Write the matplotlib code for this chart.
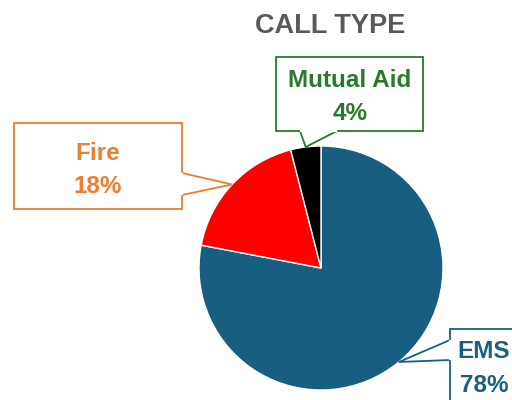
import numpy as np
import matplotlib
matplotlib.use("Agg")
import matplotlib.pyplot as plt
from matplotlib.patches import Polygon

labels = ["EMS", "Fire", "Mutual Aid"]
shares = [78, 18, 4]
wedge_colors = ["#175e81", "#ff0000", "#000000"]
label_colors = ["#1b5e80", "#ed7d31", "#2a7a2e"]

W, H = 512, 400
CX, CY, R = 321, 268, 122   # pie centre/radius in pixels, y from top

# callout boxes (left, top, right, bottom) in pixels, y from top, and pointer base
boxes = {
    "EMS": dict(box=(450, 329, 530, 420), text=(484, 358, 392), base=[(450, 340), (450, 360)]),
    "Fire": dict(box=(14, 123, 182, 209), text=(98, 160, 193), base=[(182, 173), (182, 195)]),
    "Mutual Aid": dict(box=(276, 57, 423, 131), text=(350, 87, 120), base=[(300, 131), (337, 131)]),
}

plt.rcParams['font.family'] = ['Liberation Sans', 'DejaVu Sans']

fig = plt.figure(figsize=(W / 100, H / 100), dpi=100)
ax = fig.add_axes([0, 0, 1, 1])


def fy(y):
    return H - y


wedges, _ = ax.pie(shares, colors=wedge_colors, startangle=90, counterclock=False,
                   center=(CX, fy(CY)), radius=R,
                   wedgeprops=dict(edgecolor="white", linewidth=1))
ax.set_xlim(0, W)
ax.set_ylim(0, H)
ax.set_aspect("equal")
ax.axis("off")

for wedge, lab, val, col in zip(wedges, labels, shares, label_colors):
    mid = np.deg2rad((wedge.theta1 + wedge.theta2) / 2)
    tip = (CX + R * np.cos(mid), fy(CY) + R * np.sin(mid))
    b = boxes[lab]
    l, t, r, btm = b["box"]
    (x1, y1), (x2, y2) = b["base"]
    ax.add_patch(Polygon([(x1, fy(y1)), tip, (x2, fy(y2))], closed=True,
                         facecolor="white", edgecolor=col, linewidth=1.3,
                         zorder=3, clip_on=False))
    ax.add_patch(plt.Rectangle((l, fy(btm)), r - l, btm - t, facecolor="white",
                               edgecolor=col, linewidth=1.3, zorder=4, clip_on=False))
    # hide the box border where the pointer joins it
    if x1 == x2:
        ax.plot([x1, x2], [fy(y1) - 0.8, fy(y2) + 0.8], color="white", lw=1.6, zorder=5)
    else:
        ax.plot([x1 + 0.8, x2 - 0.8], [fy(y1), fy(y2)], color="white", lw=1.6, zorder=5)
    tx, ty1, ty2 = b["text"]
    ax.text(tx, fy(ty1), lab, color=col, fontsize=17.5, fontweight="bold",
            ha="center", va="baseline", zorder=6)
    ax.text(tx, fy(ty2), f"{val}%", color=col, fontsize=17.5, fontweight="bold",
            ha="center", va="baseline", zorder=6)

ax.text(330, fy(33), "CALL TYPE", color="#595959", fontsize=19.5,
        fontweight="bold", ha="center", va="baseline")

fig.savefig("out.png", dpi=100)
